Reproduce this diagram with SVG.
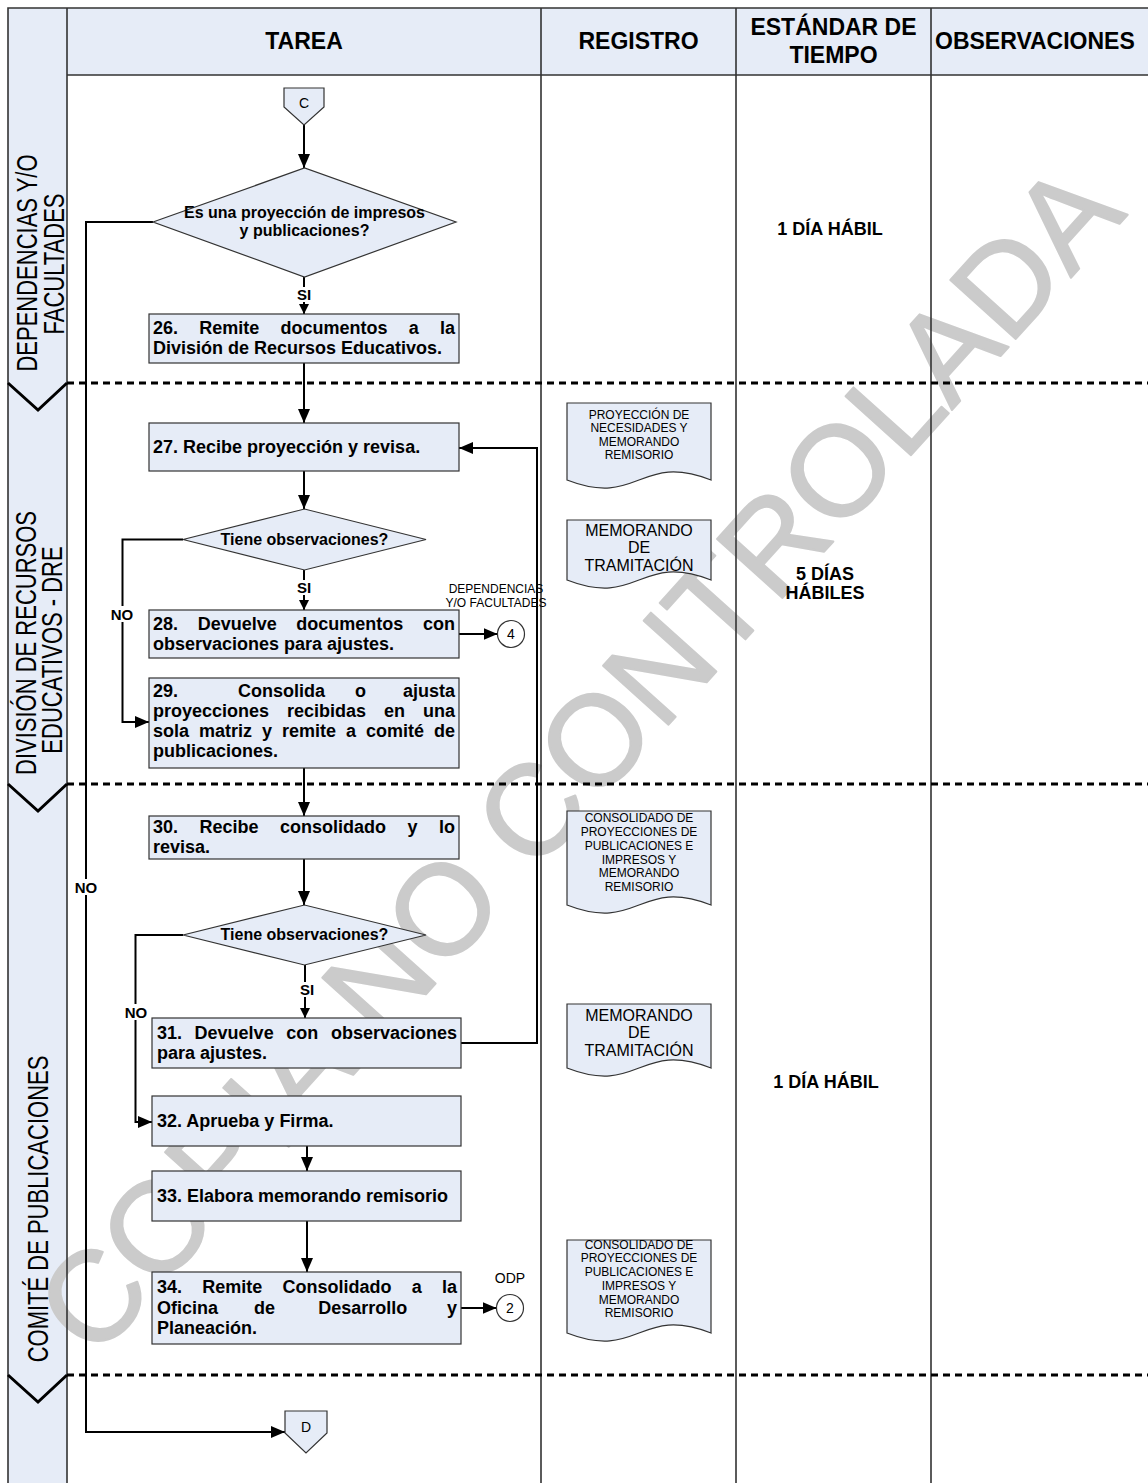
<svg xmlns="http://www.w3.org/2000/svg" width="1148" height="1483" viewBox="0 0 1148 1483">
<style>
.bg{fill:#E6ECF7}
.grid{stroke:#333;stroke-width:1.6;fill:none}
.dash{stroke:#000;stroke-width:3;stroke-dasharray:7 5;fill:none}
.chev{stroke:#000;stroke-width:3;fill:none}
.box{fill:#E6ECF7;stroke:#333;stroke-width:1.2}
.conn{stroke:#000;stroke-width:2;fill:none}
.hdr{font-family:"Liberation Sans",Arial,sans-serif;font-weight:bold;font-size:23px;fill:#000}
.lane{font-family:"Liberation Sans",Arial,sans-serif;font-size:22px;fill:#000;text-anchor:middle}
.t{font-family:"Liberation Sans",Arial,sans-serif;font-weight:bold;font-size:18px;fill:#000}
.d{font-family:"Liberation Sans",Arial,sans-serif;font-weight:bold;font-size:16px;fill:#000;text-anchor:middle}
.lbl{font-family:"Liberation Sans",Arial,sans-serif;font-weight:bold;font-size:15px;fill:#000;text-anchor:middle}
.sm{font-family:"Liberation Sans",Arial,sans-serif;font-size:12px;fill:#000;text-anchor:middle}
.doc16{font-family:"Liberation Sans",Arial,sans-serif;font-size:16px;fill:#000;text-anchor:middle}
.cn{font-family:"Liberation Sans",Arial,sans-serif;font-size:14px;fill:#000;text-anchor:middle}
.std{font-family:"Liberation Sans",Arial,sans-serif;font-weight:bold;font-size:18px;fill:#000;text-anchor:middle}
.wm{font-family:"Liberation Sans",Arial,sans-serif;font-size:128px;fill:#CBCBCB;stroke:#CBCBCB;stroke-width:2;stroke-linejoin:round;text-anchor:middle}
</style>
<defs>
<marker id="ah" markerUnits="userSpaceOnUse" markerWidth="14" markerHeight="12" refX="14" refY="6" orient="auto"><path d="M0,0 L14,6 L0,12 z" fill="#000"/></marker>
<marker id="ahs" markerUnits="userSpaceOnUse" markerWidth="10" markerHeight="10" refX="10" refY="5" orient="auto"><path d="M0,0 L10,5 L0,10 z" fill="#000"/></marker>
</defs>

<g id="background">
<rect x="0" y="0" width="1148" height="1483" fill="#fff"/>
<rect class="bg" x="8" y="8" width="59" height="1475"/>
<rect class="bg" x="67" y="8" width="1081" height="67"/>
</g>

<g id="watermark">
<text class="wm" transform="translate(578,758) rotate(-48)" x="0" y="45">COPIA NO CONTROLADA</text>
</g>

<g id="grid">
<path class="grid" d="M8,1483 V8 H1148"/>
<path class="grid" d="M67,8 V1483 M541,8 V1483 M736,8 V1483 M931,8 V1483 M67,75 H1148"/>
<path class="dash" d="M67,383 H1148 M67,784 H1148 M67,1375 H1148"/>
<path class="chev" d="M8,383 L38,410 L67,383 M8,784 L38,811 L67,784 M8,1375 L38,1402 L67,1375"/>
</g>

<g id="header">
<text class="hdr" x="304" y="49" text-anchor="middle">TAREA</text>
<text class="hdr" x="638.5" y="49" text-anchor="middle">REGISTRO</text>
<text class="hdr" x="833.5" y="35" text-anchor="middle">ESTÁNDAR DE</text>
<text class="hdr" x="833.5" y="62.5" text-anchor="middle">TIEMPO</text>
<text class="hdr" x="935" y="49">OBSERVACIONES</text>
</g>

<g id="lanes">
<text class="lane" transform="translate(37,263) rotate(-90) scale(1,1.35)">DEPENDENCIAS Y/O</text>
<text class="lane" transform="translate(64,264) rotate(-90) scale(1,1.35)">FACULTADES</text>
<text class="lane" transform="translate(36,643) rotate(-90) scale(1,1.35)">DIVISIÓN DE RECURSOS</text>
<text class="lane" transform="translate(62,650) rotate(-90) scale(1,1.35)">EDUCATIVOS - DRE</text>
<text class="lane" transform="translate(48,1209) rotate(-90) scale(1,1.35)">COMITÉ DE PUBLICACIONES</text>
</g>

<g id="connectors">
<path class="conn" d="M304,125 V168" marker-end="url(#ah)"/>
<path class="conn" d="M304,277 V314" marker-end="url(#ahs)"/>
<path class="conn" d="M304,363 V423" marker-end="url(#ah)"/>
<path class="conn" d="M304,471 V509" marker-end="url(#ah)"/>
<path class="conn" d="M304,570 V610" marker-end="url(#ahs)"/>
<path class="conn" d="M183,539.5 H122.5 V722 H149" marker-end="url(#ah)"/>
<path class="conn" d="M459,634 H497.5" marker-end="url(#ah)"/>
<path class="conn" d="M304,768 V816" marker-end="url(#ah)"/>
<path class="conn" d="M304,859 V905" marker-end="url(#ah)"/>
<path class="conn" d="M305,965 V1018" marker-end="url(#ahs)"/>
<path class="conn" d="M183,935 H135.5 V1122 H152" marker-end="url(#ah)"/>
<path class="conn" d="M461,1043 H537 V448 H459" marker-end="url(#ah)"/>
<path class="conn" d="M307,1146 V1171" marker-end="url(#ah)"/>
<path class="conn" d="M307,1221 V1272" marker-end="url(#ah)"/>
<path class="conn" d="M461,1308 H496.5" marker-end="url(#ah)"/>
<path class="conn" d="M153,222 H86 V1432 H285" marker-end="url(#ah)"/>
<rect x="295" y="287" width="18" height="15" fill="#fff"/>
<text class="lbl" x="304" y="300">SI</text>
<rect x="295" y="580" width="18" height="15" fill="#fff"/>
<text class="lbl" x="304" y="593">SI</text>
<rect x="298" y="982" width="18" height="15" fill="#fff"/>
<text class="lbl" x="307" y="995">SI</text>
<rect x="109" y="606" width="27" height="16" fill="#fff"/>
<text class="lbl" x="122" y="620">NO</text>
<rect x="123" y="1004" width="27" height="16" fill="#fff"/>
<text class="lbl" x="136" y="1018">NO</text>
<rect x="73" y="879" width="27" height="16" fill="#fff"/>
<text class="lbl" x="86" y="893">NO</text>
</g>

<g id="nodeC">
<path class="box" d="M284,88 H324 V107 L304,125 L284,107 Z"/>
<text class="cn" x="304" y="108">C</text>
</g>

<g id="dec1">
<path class="box" d="M153,222 L304.5,168 L456,222 L304.5,277 Z"/>
<text class="d" x="304.5" y="218">Es una proyección de impresos</text>
<text class="d" x="304.5" y="236">y publicaciones?</text>
</g>

<g id="task26">
<rect class="box" x="149" y="314" width="310" height="49"/>
<text class="t" y="334"><tspan x="153">26.</tspan><tspan x="199.25">Remite</tspan><tspan x="280.5">documentos</tspan><tspan x="408.75">a</tspan><tspan x="440">la</tspan></text>
<text class="t" x="153" y="354">División de Recursos Educativos.</text>
</g>

<g id="task27">
<rect class="box" x="149" y="423" width="310" height="48"/>
<text class="t" x="153" y="452.5">27. Recibe proyección y revisa.</text>
</g>

<g id="dec2">
<path class="box" d="M183,539.5 L304.5,509 L426,539.5 L304.5,570 Z"/>
<text class="d" x="304.5" y="544.5">Tiene observaciones?</text>
</g>

<g id="task28">
<rect class="box" x="149" y="610" width="310" height="48"/>
<text class="t" y="630"><tspan x="153">28.</tspan><tspan x="197.7">Devuelve</tspan><tspan x="296.3">documentos</tspan><tspan x="423">con</tspan></text>
<text class="t" x="153" y="650">observaciones para ajustes.</text>
</g>

<g id="conn4">
<circle cx="511" cy="634" r="13.5" fill="#fff" stroke="#333" stroke-width="1.2"/>
<text class="cn" x="511" y="639">4</text>
<text class="sm" x="496" y="593">DEPENDENCIAS</text>
<text class="sm" x="496" y="606.5">Y/O FACULTADES</text>
</g>

<g id="task29">
<rect class="box" x="149" y="678" width="310" height="90"/>
<text class="t" y="697"><tspan x="153">29.</tspan><tspan x="238">Consolida</tspan><tspan x="355">o</tspan><tspan x="403">ajusta</tspan></text>
<text class="t" y="717"><tspan x="153">proyecciones</tspan><tspan x="287">recibidas</tspan><tspan x="384">en</tspan><tspan x="423">una</tspan></text>
<text class="t" y="737"><tspan x="153">sola</tspan><tspan x="199">matriz</tspan><tspan x="262">y</tspan><tspan x="282">remite</tspan><tspan x="346">a</tspan><tspan x="366">comité</tspan><tspan x="434">de</tspan></text>
<text class="t" x="153" y="757">publicaciones.</text>
</g>

<g id="task30">
<rect class="box" x="149" y="816" width="310" height="43"/>
<text class="t" y="832.5"><tspan x="153">30.</tspan><tspan x="199.5">Recibe</tspan><tspan x="280">consolidado</tspan><tspan x="407.5">y</tspan><tspan x="439">lo</tspan></text>
<text class="t" x="153" y="852.5">revisa.</text>
</g>

<g id="dec3">
<path class="box" d="M183,935 L304.5,905 L426,935 L304.5,965 Z"/>
<text class="d" x="304.5" y="940">Tiene observaciones?</text>
</g>

<g id="task31">
<rect class="box" x="152" y="1018" width="309" height="50"/>
<text class="t" y="1039"><tspan x="157">31.</tspan><tspan x="194.6">Devuelve</tspan><tspan x="286.3">con</tspan><tspan x="330.9">observaciones</tspan></text>
<text class="t" x="157" y="1059">para ajustes.</text>
</g>

<g id="task32">
<rect class="box" x="152" y="1096" width="309" height="50"/>
<text class="t" x="157" y="1127">32. Aprueba y Firma.</text>
</g>

<g id="task33">
<rect class="box" x="152" y="1171" width="309" height="50"/>
<text class="t" x="157" y="1202">33. Elabora memorando remisorio</text>
</g>

<g id="task34">
<rect class="box" x="152" y="1272" width="309" height="72"/>
<text class="t" y="1293"><tspan x="157">34.</tspan><tspan x="202.25">Remite</tspan><tspan x="282.5">Consolidado</tspan><tspan x="411.75">a</tspan><tspan x="442">la</tspan></text>
<text class="t" y="1314"><tspan x="157">Oficina</tspan><tspan x="254">de</tspan><tspan x="318.3">Desarrollo</tspan><tspan x="447">y</tspan></text>
<text class="t" x="157" y="1334">Planeación.</text>
</g>

<g id="conn2">
<circle cx="510" cy="1308" r="13.5" fill="#fff" stroke="#333" stroke-width="1.2"/>
<text class="cn" x="510" y="1313">2</text>
<text class="cn" x="510" y="1283" font-size="15">ODP</text>
</g>

<g id="nodeD">
<path class="box" d="M285,1411 H327 V1433 L306,1453 L285,1433 Z"/>
<text class="cn" x="306" y="1432">D</text>
</g>

<g id="doc1">
<path class="box" d="M567,403 H711 V480 C639,452 639,508 567,480 Z"/>
<text class="sm" x="639" y="419">PROYECCIÓN DE</text>
<text class="sm" x="639" y="432">NECESIDADES Y</text>
<text class="sm" x="639" y="446">MEMORANDO</text>
<text class="sm" x="639" y="459">REMISORIO</text>
</g>

<g id="doc2">
<path class="box" d="M567,520 H711 V580 C639,552 639,608 567,580 Z"/>
<text class="doc16" x="639" y="536">MEMORANDO</text>
<text class="doc16" x="639" y="553">DE</text>
<text class="doc16" x="639" y="571">TRAMITACIÓN</text>
</g>

<g id="doc3">
<path class="box" d="M567,811 H711 V905 C639,877 639,933 567,905 Z"/>
<text class="sm" x="639" y="822">CONSOLIDADO DE</text>
<text class="sm" x="639" y="836">PROYECCIONES DE</text>
<text class="sm" x="639" y="850">PUBLICACIONES E</text>
<text class="sm" x="639" y="864">IMPRESOS Y</text>
<text class="sm" x="639" y="877">MEMORANDO</text>
<text class="sm" x="639" y="891">REMISORIO</text>
</g>

<g id="doc4">
<path class="box" d="M567,1004 H711 V1068 C639,1040 639,1096 567,1068 Z"/>
<text class="doc16" x="639" y="1021">MEMORANDO</text>
<text class="doc16" x="639" y="1038">DE</text>
<text class="doc16" x="639" y="1056">TRAMITACIÓN</text>
</g>

<g id="doc5">
<path class="box" d="M567,1240 H711 V1333 C639,1305 639,1361 567,1333 Z"/>
<text class="sm" x="639" y="1249">CONSOLIDADO DE</text>
<text class="sm" x="639" y="1262">PROYECCIONES DE</text>
<text class="sm" x="639" y="1276">PUBLICACIONES E</text>
<text class="sm" x="639" y="1290">IMPRESOS Y</text>
<text class="sm" x="639" y="1304">MEMORANDO</text>
<text class="sm" x="639" y="1317">REMISORIO</text>
</g>

<g id="times">
<text class="std" x="830" y="235">1 DÍA HÁBIL</text>
<text class="std" x="825" y="580">5 DÍAS</text>
<text class="std" x="825" y="599">HÁBILES</text>
<text class="std" x="826" y="1088">1 DÍA HÁBIL</text>
</g>
</svg>
